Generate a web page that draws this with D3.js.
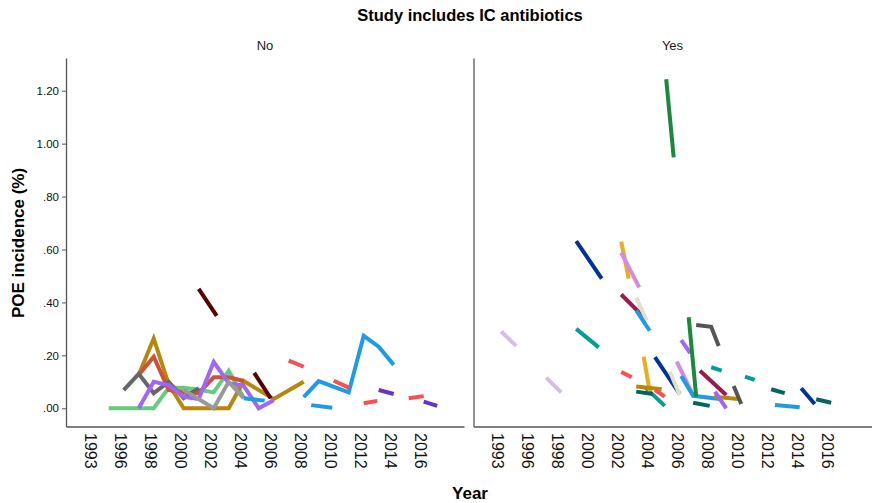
<!DOCTYPE html>
<html>
<head>
<meta charset="utf-8">
<script src="https://cdn.jsdelivr.net/npm/d3@7"></script>
<style>
	body { margin: 0; background: #fff; }
	svg text { font-family: "Liberation Sans", Arial, sans-serif; }
</style>
</head>
<body>
<div id="chart"></div>
<script>
//Facets, axis ticks and labels
var panels = ["No", "Yes"];
var xTickYears = [1994, 1996, 1998, 2000, 2002, 2004, 2006, 2008, 2010, 2012, 2014, 2016];
var xTickLabels = ["1993", "1996", "1998", "2000", "2002", "2004", "2006", "2008", "2010", "2012", "2014", "2016"];
var yTicks = [0, 0.2, 0.4, 0.6, 0.8, 1.0, 1.2];
var yTickLabels = [".00", ".20", ".40", ".60", ".80", "1.00", "1.20"];

//Study includes IC antibiotics: No   ([year, POE incidence], null = gap)
var noGreen = [[1995, 0], [1996, 0], [1997, 0], [1998, 0], [1999, 0.077], [2000, 0.078], [2001, 0.07], [2002, 0.06], [2003, 0.142], [2004, 0.04]];
var noGold = [[1997, 0.126], [1998, 0.264], [1999, 0.09], [2000, 0], [2001, 0], [2002, 0], [2003, 0], [2004, 0.103], [2006, 0.035], [2008, 0.1]];
var noRed = [[1997, 0.126], [1998, 0.195], [1999, 0.069], [2000, 0.06], [2001, 0.057], [2002, 0.117], [2003, 0.117], [2004, 0.103]];
var noGray = [[1996, 0.069], [1997, 0.13], [1998, 0.057], [1999, 0.1], [2000, 0.038], [2001, 0.076]];
var noPurple = [[1997, 0], [1998, 0.1], [1999, 0.088], [2000, 0.043], [2001, 0.035], [2002, 0.175], [2003, 0.095], [2004, 0.085], [2005, 0], [2006, 0.03]];
var noLightGray = [[2000, 0.069], [2002, 0], [2003, 0.1], [2004, 0.038]];
var noMaroon = [[2001, 0.451], [2002.2, 0.349], [2003, null], [2004.7, 0.134], [2005.8, 0.038]];
var noBlue = [[2004, 0.038], [2005.4, 0.029], [2006, null], [2008, 0.042], [2009, 0.103], [2011, 0.06], [2012, 0.274], [2013, 0.233], [2014, 0.164]];
var noBlue2 = [[2008.5, 0.012], [2009.9, 0.002]];
var noCoral = [[2007, 0.18], [2008, 0.157], [2009, null], [2010, 0.104], [2011, 0.078], [2011.5, null], [2012, 0.019], [2012.9, 0.028], [2014, null], [2015, 0.038], [2016, 0.046]];
var noViolet = [[2013, 0.069], [2014, 0.054], [2015, null], [2016, 0.025], [2016.9, 0.009]];

//Study includes IC antibiotics: Yes
var yesThistle = [[1994, 0.29], [1995, 0.236], [1996, null], [1997, 0.116], [1998, 0.06]];
var yesTeal = [[1999, 0.3], [2000.5, 0.23], [2001, null], [2003.6, 0.079], [2004.9, 0.009], [2005, null], [2008, 0.155], [2008.7, 0.142], [2009, null], [2010.25, 0.12], [2010.9, 0.107]];
var yesNavy = [[1999, 0.632], [2000.7, 0.49], [2001, null], [2004.25, 0.193], [2005.9, 0.054], [2006, null], [2014, 0.076], [2014.9, 0.016]];
var yesAmber = [[2002, 0.63], [2002.5, 0.49], [2003, null], [2003.5, 0.195], [2003.9, 0.063]];
var yesOrchid = [[2002, 0.588], [2003.2, 0.457], [2004, null], [2005.7, 0.176], [2006.8, 0.05]];
var yesMaroon = [[2002, 0.43], [2003.6, 0.34], [2004, null], [2007.25, 0.142], [2009, 0.05]];
var yesCream = [[2003, 0.418], [2003.7, 0.331], [2004, null], [2005.25, 0.138], [2005.9, 0.05]];
var yesBlue = [[2003, 0.37], [2003.9, 0.293], [2004.5, null], [2006, 0.122], [2006.8, 0.047], [2008.6, 0.035], [2010, null], [2012.25, 0.012], [2013.9, 0.004]];
var yesGold = [[2003, 0.082], [2004.7, 0.072], [2005, null], [2008.2, 0.044], [2009.8, 0.035]];
var yesDarkTeal = [[2003, 0.063], [2004.1, 0.054], [2005, null], [2006.8, 0.021], [2007.9, 0.009], [2008, null], [2012, 0.072], [2012.9, 0.057], [2013, null], [2015, 0.034], [2016, 0.021]];
var yesCoral = [[2002, 0.137], [2002.7, 0.117], [2003, null], [2004.25, 0.069], [2004.9, 0.044]];
var yesPurple = [[2006, 0.258], [2006.6, 0.208], [2007, null], [2008.25, 0.063], [2009, 0]];
var yesCharcoal = [[2007, 0.315], [2008, 0.308], [2008.5, 0.235], [2009, null], [2009.5, 0.084], [2010, 0.016]];
var yesGreen = [[2005, 1.243], [2005.5, 0.948], [2006, null], [2006.5, 0.344], [2007, 0.044]];

var noSeries = [noGreen, noGold, noRed, noGray, noPurple, noLightGray, noMaroon, noBlue, noBlue2, noCoral, noViolet];
var noColors = ["#66cc7a", "#b8860b", "#d0503a", "#666666", "#a066f7", "#999999", "#5a0000", "#1e9be6", "#1e9be6", "#ff4d4d", "#6633cc"];
var yesSeries = [yesThistle, yesTeal, yesNavy, yesAmber, yesOrchid, yesMaroon, yesCream, yesBlue, yesGold, yesDarkTeal, yesCoral, yesPurple, yesCharcoal, yesGreen];
var yesColors = ["#d5bde8", "#009e96", "#003399", "#e8ae1c", "#d687e8", "#9b1b4b", "#e2e0c6", "#1e9be6", "#b8860b", "#00665f", "#ff4d4d", "#a066f7", "#555555", "#1a8a3a"];

chart = {
	width: 872,
	height: 503,
	init: function() {
		var svg = d3.select("#chart")
			.append("svg")
			.attr("width", chart.width)
			.attr("height", chart.height);

		//Panel boxes (left edge, width)
		var panelX = [66, 473.5];
		var panelW = 398;

		var y = d3.scaleLinear()
			.domain([-0.0688, 1.3235])
			.range([426.5, 58]);

		chart.drawPanel(svg, panelX[0], panelW, y, noSeries, noColors, panels[0], true);
		chart.drawPanel(svg, panelX[1], panelW, y, yesSeries, yesColors, panels[1], false);

		//Titles
		svg.append("text")
			.attr("x", 470)
			.attr("y", 21)
			.attr("text-anchor", "middle")
			.style("font-size", "16.5px")
			.style("font-weight", "bold")
			.text("Study includes IC antibiotics");

		svg.append("text")
			.attr("transform", "translate(24,243) rotate(-90)")
			.attr("text-anchor", "middle")
			.style("font-size", "17px")
			.style("font-weight", "bold")
			.text("POE incidence (%)");

		svg.append("text")
			.attr("x", 470)
			.attr("y", 499)
			.attr("text-anchor", "middle")
			.style("font-size", "17px")
			.style("font-weight", "bold")
			.text("Year");
	},
	drawPanel: function(svg, x0, w, y, series, colors, label, showY) {
		var x = d3.scaleLinear()
			.domain([1992.153, 2018.687])
			.range([x0, x0 + w]);

		//Strip label
		svg.append("text")
			.attr("x", x0 + w / 2)
			.attr("y", 50)
			.attr("text-anchor", "middle")
			.style("font-size", "13px")
			.style("fill", "#1a1a1a")
			.text(label);

		//Y axis
		var yAxis = svg.append("g")
			.attr("transform", "translate(" + x0 + ",0)")
			.call(d3.axisLeft(y)
				.tickValues(yTicks)
				.tickFormat(function(d, i) { return yTickLabels[i]; })
				.tickSize(showY ? 4 : 0)
				.tickSizeOuter(0)
				.tickPadding(3));
		yAxis.select(".domain").attr("stroke", "#555").attr("stroke-width", 1.3);
		yAxis.selectAll(".tick line").attr("stroke", "#555");
		yAxis.selectAll("text")
			.style("font-size", "11.5px")
			.style("fill", showY ? "#111" : "none");

		//X axis
		var xAxis = svg.append("g")
			.attr("transform", "translate(0,426.5)")
			.call(d3.axisBottom(x)
				.tickValues(xTickYears)
				.tickFormat(function(d, i) { return xTickLabels[i]; })
				.tickSize(0)
				.tickSizeOuter(0));
		xAxis.select(".domain").attr("stroke", "#555").attr("stroke-width", 1.3);
		xAxis.selectAll("text")
			.attr("transform", "rotate(90)")
			.attr("text-anchor", "start")
			.attr("x", 6.5)
			.attr("y", 0)
			.attr("dy", "0.6em")
			.style("font-size", "16px")
			.style("fill", "#111");

		//Study lines
		var line = d3.line()
			.defined(function(d) { return d[1] !== null; })
			.x(function(d) { return x(d[0]); })
			.y(function(d) { return y(d[1]); });

		svg.append("g")
			.selectAll("path")
			.data(series)
			.enter()
			.append("path")
			.attr("d", line)
			.attr("fill", "none")
			.attr("stroke", function(d, i) { return colors[i]; })
			.attr("stroke-width", 4)
			.attr("stroke-linecap", "butt")
			.attr("stroke-linejoin", "miter");
	}
};

chart.init();
</script>
</body>
</html>
